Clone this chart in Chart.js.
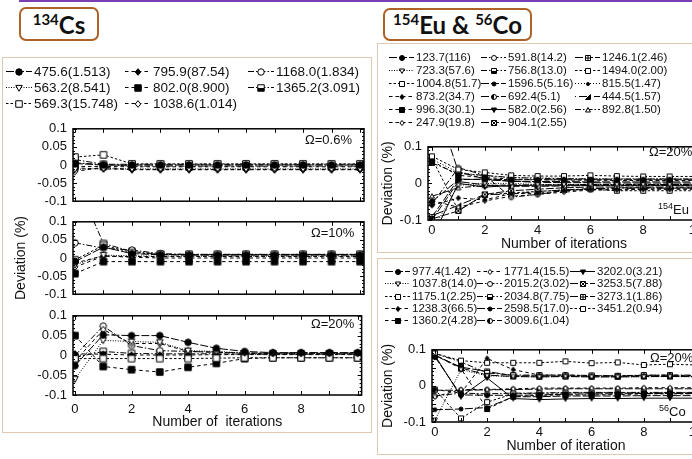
<!DOCTYPE html>
<html>
<head>
<meta charset="utf-8">
<script src="https://cdn.jsdelivr.net/npm/chart.js@4"></script>
<style>
  html, body { margin: 0; padding: 0; background: #fff; }
  body { width: 692px; height: 459px; overflow: hidden; position: relative;
         font-family: "Liberation Sans", Arial, sans-serif; color: #111; }
  .abs { position: absolute; box-sizing: border-box; }
  .topline { left: 19px; top: -20px; width: 720px; height: 22px;
             border-left: 2px solid #7b3fb5; border-bottom: 2px solid #7b3fb5; }
  .tag { border: 2px solid #ad6328; border-radius: 7px; background: #fff;
         font-family: Lato, "Open Sans", sans-serif; font-weight: bold;
         font-size: 24px; text-align: center; color: #111; }
  .tag sup { font-size: 15px; line-height: 0; vertical-align: 9px; }
  .panel { border: 1.5px solid #e0c9b0; }
  .legend { display: grid; grid-auto-flow: column; white-space: nowrap; }
  .legend .item { display: flex; align-items: center; }
  .legend canvas { margin-right: 2px; flex: none; }
  .note { font-size: 13px; white-space: nowrap; }
  .note sup { font-size: 9px; vertical-align: 5px; line-height: 0; }
  canvas.plot { position: absolute; }
</style>
</head>
<body>
<div class="abs topline"></div>

<div class="abs tag" style="left:19px;top:7px;width:80px;height:34px;line-height:31px"><sup>134</sup>Cs</div>
<div class="abs tag" style="left:383px;top:8px;width:149px;height:33px;line-height:30px"><sup>154</sup>Eu &amp; <sup>56</sup>Co</div>

<div class="abs panel" style="left:2px;top:57px;width:370px;height:376px"></div>
<div class="abs panel" style="left:377px;top:43px;width:330px;height:210px"></div>
<div class="abs panel" style="left:377px;top:258px;width:330px;height:197px"></div>

<div id="legCs" class="abs legend" style="left:6px;top:63px;font-size:13.5px"></div>
<div id="legEu" class="abs legend" style="left:389px;top:50px;font-size:11.5px"></div>
<div id="legCo" class="abs legend" style="left:385px;top:265px;font-size:11.5px"></div>

<canvas id="cs1" class="plot" width="372" height="100" style="left:0;top:115px"></canvas>
<canvas id="cs2" class="plot" width="372" height="100" style="left:0;top:208px"></canvas>
<canvas id="cs3" class="plot" width="372" height="131" style="left:0;top:302px"></canvas>
<canvas id="eu" class="plot" width="330" height="121" style="left:378px;top:133px"></canvas>
<canvas id="co" class="plot" width="330" height="120" style="left:378px;top:336px"></canvas>

<div class="abs note" style="left:305px;top:132px">&Omega;=0.6%</div>
<div class="abs note" style="left:311px;top:225px">&Omega;=10%</div>
<div class="abs note" style="left:311px;top:316px">&Omega;=20%</div>
<div class="abs note" style="left:649px;top:144px">&Omega;=20%</div>
<div class="abs note" style="left:658px;top:202px"><sup>154</sup>Eu</div>
<div class="abs note" style="left:650px;top:350px">&Omega;=20%</div>
<div class="abs note" style="left:659px;top:404px"><sup>56</sup>Co</div>

<script>
// iteration number on the x axis
const iterations = [0, 1, 2, 3, 4, 5, 6, 7, 8, 9, 10];
const xTicks = [0, 2, 4, 6, 8, 10];
const yTicksFine = [-0.1, -0.05, 0, 0.05, 0.1];
const yTicksCoarse = [-0.1, 0, 0.1];

// 134Cs gamma lines, energy keV (intensity %)
const csLines = ['475.6(1.513)', '563.2(8.541)', '569.3(15.748)', '795.9(87.54)',
                 '802.0(8.900)', '1038.6(1.014)', '1168.0(1.834)', '1365.2(3.091)'];

const csOmega06 = [
  [0.004, 0.000, 0.000, 0.000, 0.000, 0.000, 0.000, 0.000, 0.000, 0.000, 0.000],
  [-0.012, -0.010, -0.011, -0.011, -0.011, -0.011, -0.011, -0.011, -0.011, -0.011, -0.011],
  [0.022, 0.028, 0.003, 0.003, 0.003, 0.003, 0.003, 0.003, 0.003, 0.003, 0.003],
  [-0.008, -0.011, -0.012, -0.012, -0.012, -0.012, -0.012, -0.012, -0.012, -0.012, -0.012],
  [-0.004, -0.004, -0.005, -0.005, -0.005, -0.005, -0.005, -0.005, -0.005, -0.005, -0.005],
  [-0.018, -0.006, -0.013, -0.013, -0.013, -0.013, -0.013, -0.013, -0.013, -0.013, -0.013],
  [0.006, 0.001, -0.003, -0.003, -0.003, -0.003, -0.003, -0.003, -0.003, -0.003, -0.003],
  [0.015, 0.002, 0.002, 0.002, 0.002, 0.002, 0.002, 0.002, 0.002, 0.002, 0.002]
];

const csOmega10 = [
  [-0.010, 0.030, 0.012, 0.009, 0.008, 0.008, 0.008, 0.008, 0.008, 0.008, 0.008],
  [-0.019, 0.008, 0.006, 0.005, 0.005, 0.005, 0.005, 0.005, 0.005, 0.005, 0.005],
  [-0.005, 0.035, 0.015, 0.010, 0.010, 0.010, 0.010, 0.010, 0.010, 0.010, 0.010],
  [-0.014, 0.006, 0.002, 0.000, 0.000, 0.000, 0.000, 0.000, 0.000, 0.000, 0.000],
  [-0.043, -0.010, -0.010, -0.010, -0.010, -0.010, -0.010, -0.010, -0.010, -0.010, -0.010],
  [-0.025, 0.005, 0.004, 0.004, 0.004, 0.004, 0.004, 0.004, 0.004, 0.004, 0.004],
  [0.042, 0.027, 0.022, 0.012, 0.010, 0.010, 0.010, 0.010, 0.010, 0.010, 0.010],
  [0.220, 0.040, 0.018, 0.010, 0.009, 0.009, 0.009, 0.009, 0.009, 0.009, 0.009]
];

const csOmega20 = [
  [-0.026, 0.052, 0.050, 0.050, 0.033, 0.018, 0.010, 0.007, 0.007, 0.007, 0.007],
  [-0.060, 0.038, 0.035, 0.033, 0.012, 0.010, 0.006, 0.005, 0.005, 0.005, 0.005],
  [-0.008, -0.008, -0.008, -0.008, -0.008, -0.007, -0.006, -0.006, -0.006, -0.006, -0.006],
  [0.004, 0.003, 0.001, 0.001, 0.001, 0.002, 0.002, 0.002, 0.002, 0.002, 0.002],
  [0.050, -0.028, -0.036, -0.042, -0.030, -0.020, -0.008, -0.006, -0.006, -0.006, -0.006],
  [-0.015, 0.065, 0.030, 0.030, 0.010, 0.008, 0.005, 0.004, 0.004, 0.004, 0.004],
  [0.000, 0.074, 0.025, 0.012, 0.010, 0.008, 0.006, 0.006, 0.006, 0.006, 0.006],
  [-0.005, 0.010, 0.005, 0.004, 0.004, 0.004, 0.003, 0.003, 0.003, 0.003, 0.003]
];

// 154Eu gamma lines
const euLines = ['123.7(116)', '723.3(57.6)', '1004.8(51.7)', '873.2(34.7)', '996.3(30.1)', '247.9(19.8)',
                 '591.8(14.2)', '756.8(13.0)', '1596.5(5.16)', '692.4(5.1)', '582.0(2.56)', '904.1(2.55)',
                 '1246.1(2.46)', '1494.0(2.00)', '815.5(1.47)', '444.5(1.57)', '892.8(1.50)'];

const euOmega20 = [
  [-0.050, 0.010, 0.012, 0.010, 0.010, 0.010, 0.010, 0.010, 0.010, 0.010, 0.010],
  [-0.130, -0.005, 0.000, 0.000, -0.003, -0.003, -0.003, -0.003, -0.003, -0.003, -0.003],
  [0.074, 0.038, 0.030, 0.022, 0.020, 0.020, 0.022, 0.020, 0.019, 0.019, 0.019],
  [-0.060, -0.040, -0.045, -0.028, -0.027, -0.020, -0.016, -0.016, -0.015, -0.015, -0.015],
  [0.061, 0.022, 0.016, 0.012, 0.010, 0.009, 0.009, 0.008, 0.008, 0.008, 0.008],
  [-0.047, -0.065, -0.048, -0.035, -0.030, -0.024, -0.018, -0.018, -0.016, -0.016, -0.016],
  [-0.057, 0.043, 0.022, -0.038, -0.030, -0.020, -0.015, -0.012, -0.012, -0.012, -0.012],
  [0.056, 0.027, 0.022, 0.016, 0.014, 0.013, 0.012, 0.012, 0.012, 0.012, 0.012],
  [0.250, 0.032, 0.012, 0.006, 0.003, 0.002, 0.002, 0.001, 0.001, 0.001, 0.001],
  [-0.100, 0.005, -0.004, -0.008, -0.008, -0.007, -0.006, -0.006, -0.006, -0.006, -0.006],
  [-0.150, 0.000, -0.010, -0.006, -0.005, -0.005, -0.005, -0.005, -0.005, -0.005, -0.005],
  [-0.097, -0.075, -0.030, -0.020, -0.016, -0.012, -0.010, -0.010, -0.010, -0.010, -0.010],
  [-0.092, 0.012, 0.010, 0.006, 0.005, 0.005, 0.004, 0.004, 0.004, 0.004, 0.004],
  [0.068, -0.074, -0.032, -0.026, -0.022, -0.018, -0.016, -0.020, -0.020, -0.020, -0.020],
  [0.066, 0.030, 0.020, 0.016, 0.015, 0.014, 0.013, 0.013, 0.013, 0.013, 0.013],
  [-0.088, -0.060, -0.030, -0.030, -0.022, -0.018, -0.014, -0.014, -0.013, -0.013, -0.013],
  [-0.035, -0.012, -0.006, -0.004, -0.004, -0.004, -0.003, -0.003, -0.003, -0.003, -0.003]
];

// 56Co gamma lines
const coLines = ['977.4(1.42)', '1037.8(14.0)', '1175.1(2.25)', '1238.3(66.5)', '1360.2(4.28)',
                 '1771.4(15.5)', '2015.2(3.02)', '2034.8(7.75)', '2598.5(17.0)', '3009.6(1.04)',
                 '3202.0(3.21)', '3253.5(7.88)', '3273.1(1.86)', '3451.2(0.94)'];

const coOmega20 = [
  [0.080, -0.025, -0.026, -0.026, -0.025, -0.023, -0.022, -0.022, -0.021, -0.021, -0.021],
  [-0.095, 0.045, 0.028, 0.026, 0.025, 0.026, 0.025, 0.025, 0.025, 0.026, 0.025],
  [0.090, 0.070, 0.064, 0.064, 0.064, 0.068, 0.063, 0.065, 0.058, 0.060, 0.058],
  [-0.010, -0.020, 0.076, 0.045, 0.030, 0.030, 0.028, 0.028, 0.029, 0.030, 0.028],
  [0.085, 0.048, -0.064, -0.030, -0.026, -0.025, -0.025, -0.024, -0.022, -0.022, -0.022],
  [-0.030, -0.010, -0.010, -0.008, -0.006, -0.006, -0.006, -0.006, -0.005, -0.005, -0.005],
  [-0.028, -0.020, -0.022, -0.020, -0.020, -0.018, -0.018, -0.018, -0.018, -0.018, -0.018],
  [0.090, 0.066, 0.036, 0.030, 0.030, 0.030, 0.029, 0.028, 0.030, 0.030, 0.030],
  [-0.066, -0.064, -0.060, -0.030, -0.030, -0.028, -0.028, -0.028, -0.027, -0.027, -0.027],
  [-0.012, -0.012, -0.011, -0.010, -0.009, -0.008, -0.008, -0.008, -0.008, -0.008, -0.008],
  [0.085, -0.030, 0.022, -0.035, -0.038, -0.036, -0.035, -0.035, -0.034, -0.034, -0.034],
  [0.086, 0.050, 0.030, 0.026, 0.025, 0.026, 0.025, 0.025, 0.026, 0.026, 0.026],
  [0.084, 0.052, 0.040, 0.028, 0.028, 0.027, 0.027, 0.027, 0.028, 0.028, 0.027],
  [-0.010, -0.090, -0.045, -0.022, -0.020, -0.020, -0.019, -0.019, -0.019, -0.019, -0.019]
];

// line / marker look, shared by position across all three figures
const STYLES = [
  { dash: [8, 2], shape: 'circle', fill: 'k' },
  { dash: [1, 1.5], shape: 'triDown', fill: 'w' },
  { dash: [2.5, 2], shape: 'square', fill: 'w' },
  { dash: [3.5, 3], shape: 'diamond', fill: 'k', k: 0.85 },
  { dash: [3.5, 3], shape: 'square', fill: 'k' },
  { dash: [3.5, 3], shape: 'diamond', fill: 'w', k: 0.85 },
  { dash: [6, 2, 1.5, 2], shape: 'circle', fill: 'w' },
  { dash: [6, 2, 1.5, 2], shape: 'square', fill: 'half' },
  { dash: [8, 2], shape: 'circle', fill: 'k', k: 0.8 },
  { dash: [8, 2], shape: 'circle', fill: 'halfL' },
  { dash: [], shape: 'triDown', fill: 'k' },
  { dash: [8, 2], shape: 'square', fill: 'w', extra: 'x' },
  { dash: [8, 2], shape: 'square', fill: 'w', extra: 'plus' },
  { dash: [2.5, 2], shape: 'square', fill: 'w' },
  { dash: [1, 2], shape: 'circle', fill: 'k', k: 0.6 },
  { dash: [1, 3, 8, 3], shape: 'triRight', fill: 'k' },
  { dash: [6, 2, 1.5, 2], shape: 'triUp', fill: 'w' }
];

function markerCanvas(st, size) {
  const w = Math.ceil(size + 3);
  const c = document.createElement('canvas');
  c.width = w; c.height = w;
  const g = c.getContext('2d');
  const m = w / 2, r = size * (st.k || 1) / 2;
  g.lineWidth = 1;
  g.strokeStyle = '#000';
  g.beginPath();
  if (st.shape === 'circle') g.arc(m, m, r, 0, Math.PI * 2);
  else if (st.shape === 'square') g.rect(m - r, m - r, 2 * r, 2 * r);
  else if (st.shape === 'diamond') { g.moveTo(m, m - r * 1.2); g.lineTo(m + r, m); g.lineTo(m, m + r * 1.2); g.lineTo(m - r, m); g.closePath(); }
  else if (st.shape === 'triDown') { g.moveTo(m - r, m - r * 0.8); g.lineTo(m + r, m - r * 0.8); g.lineTo(m, m + r); g.closePath(); }
  else if (st.shape === 'triUp') { g.moveTo(m - r, m + r * 0.8); g.lineTo(m + r, m + r * 0.8); g.lineTo(m, m - r); g.closePath(); }
  else if (st.shape === 'triRight') { g.moveTo(m + r, m - r); g.lineTo(m + r, m + r); g.lineTo(m - r, m + r); g.closePath(); }
  g.fillStyle = st.fill === 'k' ? '#000' : '#fff';
  g.fill();
  g.stroke();
  if (st.fill === 'half' || st.fill === 'halfL') {
    g.save();
    g.clip();
    g.fillStyle = '#000';
    if (st.fill === 'half') g.fillRect(m - r, m, 2 * r, r);
    else g.fillRect(m - r, m - r, r, 2 * r);
    g.restore();
  }
  if (st.extra === 'x') { g.beginPath(); g.moveTo(m - r, m - r); g.lineTo(m + r, m + r); g.moveTo(m + r, m - r); g.lineTo(m - r, m + r); g.stroke(); }
  if (st.extra === 'plus') { g.beginPath(); g.moveTo(m, m - r); g.lineTo(m, m + r); g.moveTo(m - r, m); g.lineTo(m + r, m); g.stroke(); }
  return c;
}

function buildLegend(id, labels, rows, colWidths, rowH, iconW, msize) {
  const box = document.getElementById(id);
  box.style.gridTemplateRows = `repeat(${rows}, ${rowH}px)`;
  box.style.gridTemplateColumns = colWidths.map(w => w + 'px').join(' ');
  labels.forEach((txt, i) => {
    const st = STYLES[i];
    const item = document.createElement('div');
    item.className = 'item';
    const ic = document.createElement('canvas');
    ic.width = iconW; ic.height = 10;
    const g = ic.getContext('2d');
    g.strokeStyle = '#000';
    g.lineWidth = 1;
    g.setLineDash(st.dash);
    g.beginPath(); g.moveTo(0, 5.5); g.lineTo(iconW, 5.5); g.stroke();
    const mk = markerCanvas(st, msize);
    g.drawImage(mk, Math.round(iconW / 2 - mk.width / 2), Math.round(5.5 - mk.height / 2));
    item.appendChild(ic);
    const span = document.createElement('span');
    span.textContent = txt;
    item.appendChild(span);
    box.appendChild(item);
  });
}

// frame with inward ticks on all four sides
const framePlugin = {
  id: 'frame',
  afterDraw(chart) {
    const { ctx, chartArea: a, scales: { x, y } } = chart;
    ctx.save();
    ctx.strokeStyle = '#000';
    ctx.lineWidth = 1;
    ctx.beginPath();
    for (let v = 0; v <= 10; v++) {
      const px = Math.round(x.getPixelForValue(v)) + 0.5;
      ctx.moveTo(px, a.bottom); ctx.lineTo(px, a.bottom - 4);
      ctx.moveTo(px, a.top); ctx.lineTo(px, a.top + 4);
    }
    for (let i = -10; i <= 10; i++) {
      const py = Math.round(y.getPixelForValue(i / 100)) + 0.5;
      const len = i % 5 === 0 ? 4 : 2;
      ctx.moveTo(a.left, py); ctx.lineTo(a.left + len, py);
      ctx.moveTo(a.right, py); ctx.lineTo(a.right - len, py);
    }
    ctx.stroke();
    ctx.lineWidth = 1.5;
    ctx.strokeRect(a.left, a.top, a.width, a.height);
    ctx.restore();
  }
};

Chart.defaults.font.family = '"Liberation Sans", Arial, sans-serif';
Chart.defaults.color = '#111';

function makePlot(id, rows, o) {
  const datasets = rows.map((r, i) => {
    const st = STYLES[i];
    return {
      data: r.map((v, j) => ({ x: iterations[j], y: v })),
      borderColor: '#000',
      borderWidth: 1,
      borderDash: st.dash,
      pointStyle: markerCanvas(st, o.msize),
      pointRadius: 4,
      pointHoverRadius: 4,
      tension: 0,
      fill: false
    };
  });
  return new Chart(document.getElementById(id), {
    type: 'line',
    data: { datasets },
    options: {
      responsive: false,
      animation: false,
      devicePixelRatio: 1,
      events: [],
      layout: { padding: o.padding },
      plugins: { legend: { display: false }, tooltip: { enabled: false } },
      scales: {
        x: {
          type: 'linear', min: o.xmin, max: o.xmax, display: o.showX,
          afterBuildTicks: s => { s.ticks = xTicks.map(v => ({ value: v })); },
          afterFit: s => { s.height = o.xh || 0; },
          grid: { display: false, drawTicks: false },
          border: { display: false },
          ticks: { padding: o.xpad, font: { size: 13 }, maxRotation: 0 },
          title: { display: o.showX, text: o.xtitle, font: { size: 14 }, padding: { top: 0, bottom: o.tpad } }
        },
        y: {
          min: -0.1, max: 0.1,
          afterBuildTicks: s => { s.ticks = o.yTicks.map(v => ({ value: v })); },
          afterFit: s => { s.width = o.yw; },
          grid: { display: false, drawTicks: false },
          border: { display: false },
          ticks: { padding: 6, font: { size: 13 }, callback: v => String(v) },
          title: { display: !!o.ytitle, text: 'Deviation (%)', font: { size: 14 }, padding: { top: o.ytpad || 0, bottom: 0 } }
        }
      }
    },
    plugins: [framePlugin]
  });
}

buildLegend('legCs', csLines, 3, [119, 123, 120], 16, 26, 6.5);
buildLegend('legEu', euLines, 6, [92, 94, 100], 13, 25, 5);
buildLegend('legCo', coLines, 5, [92, 93, 100], 12.3, 25, 5);

const leftCommon = { xmin: -0.07, xmax: 10.14, yw: 73, msize: 6.5, yTicks: yTicksFine };
makePlot('cs1', csOmega06, { ...leftCommon, showX: false, padding: { top: 10, right: 8, bottom: 8, left: 0 } });
makePlot('cs2', csOmega10, { ...leftCommon, showX: false, ytitle: true, ytpad: 13, padding: { top: 10, right: 8, bottom: 8, left: 0 } });
makePlot('cs3', csOmega20, { ...leftCommon, showX: true, xh: 38, xpad: 7, tpad: 2, xtitle: 'Number of  iterations', padding: { top: 10, right: 8, bottom: 0, left: 0 } });

makePlot('eu', euOmega20, { xmin: -0.15, xmax: 10.15, yw: 50, msize: 5, yTicks: yTicksCoarse, showX: true, xh: 34, xpad: 3, tpad: 1,
  xtitle: 'Number of iterations', ytitle: true, ytpad: 2, padding: { top: 10, right: 8, bottom: 0, left: 0 } });
makePlot('co', coOmega20, { xmin: -0.11, xmax: 10.15, yw: 54, msize: 5, yTicks: yTicksFine, showX: true, xh: 34, xpad: 3, tpad: 1,
  xtitle: 'Number of iteration', ytitle: true, ytpad: 2, padding: { top: 10, right: 8, bottom: 0, left: 0 } });
</script>
</body>
</html>
